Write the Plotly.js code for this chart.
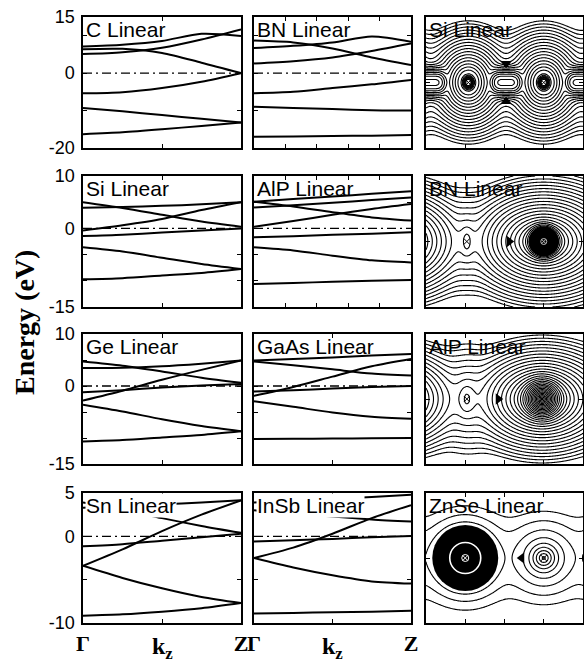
<!DOCTYPE html>
<html><head><meta charset="utf-8">
<script src="https://cdn.plot.ly/plotly-3.0.1.min.js"></script>
<style>html,body{margin:0;padding:0;background:#fff}#plot{width:584px;height:663px}</style>
</head><body><div id="plot"></div>
<script>
// ---------- band-structure data (energy in eV at k points along Γ→Z) ----------
const kPoints = [0, 0.25, 0.5, 0.75, 1];
const fermiLevel = 0;

const bandsC = [
  [-16.3, -15.8, -15.0, -14.1, -13.2],
  [-9.3, -10.2, -11.2, -12.2, -13.2],
  [-5.4, -5.1, -4.0, -2.3, 0],
  [6.4, 6.5, 5.4, 2.8, 0],
  [5.1, 5.6, 6.8, 9.0, 11.7],
  [7.1, 7.6, 8.6, 10.5, 9.9]
];
const bandsBN = [
  [-17.0, -16.9, -16.8, -16.7, -16.5],
  [-9.0, -9.3, -9.6, -9.9, -10.0],
  [-5.4, -5.0, -4.0, -3.0, -1.8],
  [8.7, 8.2, 6.6, 4.2, 2.2],
  [6.7, 7.3, 8.2, 9.8, 8.4],
  [2.6, 3.2, 4.2, 5.9, 7.9]
];
const bandsSi = [
  [-9.7, -9.5, -9.0, -8.5, -7.75],
  [-3.6, -4.4, -5.6, -6.8, -7.75],
  [-1.45, -1.2, -0.8, -0.4, 0],
  [-0.4, 0.6, 1.8, 3.5, 5.0],
  [5.0, 3.9, 2.6, 1.3, 0.3],
  [3.95, 4.1, 4.3, 4.6, 5.0]
];
const bandsAlP = [
  [-10.6, -10.4, -10.2, -10.0, -9.85],
  [-3.6, -4.2, -5.2, -6.1, -6.5],
  [-1.7, -1.5, -1.2, -1.0, -0.75],
  [0.3, 1.4, 2.6, 3.7, 4.65],
  [5.1, 4.2, 3.1, 2.1, 1.5],
  [4.0, 4.4, 4.9, 5.4, 5.9],
  [5.1, 5.6, 6.1, 6.6, 7.1]
];
const bandsGe = [
  [-10.65, -10.4, -9.9, -9.4, -8.7],
  [-3.6, -4.9, -6.4, -7.7, -8.7],
  [-1.2, -0.8, -0.3, 0.1, 0.4],
  [-2.8, -0.9, 1.2, 3.1, 4.9],
  [4.7, 3.9, 2.8, 1.6, 0.6],
  [3.45, 3.5, 3.8, 4.3, 4.9]
];
const bandsGaAs = [
  [-10.2, -10.15, -10.1, -10.05, -10.0],
  [-2.95, -4.0, -5.1, -5.9, -6.3],
  [-1.05, -0.8, -0.5, -0.2, 0],
  [-1.9, -0.2, 1.8, 3.8, 5.2],
  [4.7, 4.0, 3.2, 2.4, 2.0],
  [4.9, 5.2, 5.5, 5.85, 6.15]
];
const bandsSn = [
  [-9.15, -9.0, -8.7, -8.3, -7.7],
  [-3.4, -4.8, -6.0, -7.0, -7.7],
  [-1.15, -0.9, -0.5, -0.1, 0.3],
  [-3.4, -1.5, 0.6, 2.5, 4.15],
  [3.9, 3.1, 2.1, 1.2, 0.4],
  [3.3, 3.5, 3.7, 3.9, 4.15]
];
const bandsInSb = [
  [-8.9, -8.85, -8.75, -8.7, -8.6],
  [-2.5, -3.6, -4.5, -5.2, -5.45],
  [-0.6, -0.45, -0.3, -0.1, 0.05],
  [-2.5, -1.3, 0.3, 2.1, 3.6],
  [3.0, 2.6, 2.3, 1.95, 1.7],
  [3.9, 4.1, 4.3, 4.55, 4.8]
];

const bandTitles = ['C Linear', 'BN Linear', 'Si Linear', 'AlP Linear', 'Ge Linear', 'GaAs Linear', 'Sn Linear', 'InSb Linear'];
const bandSets = [bandsC, bandsBN, bandsSi, bandsAlP, bandsGe, bandsGaAs, bandsSn, bandsInSb];
const rowRanges = [[-20, 15], [-15, 10], [-15, 10], [-10, 5]];
const rowTickVals = [[-20, -10, 0, 10, 15], [-15, -10, -5, 0, 5, 10], [-15, -10, -5, 0, 5, 10], [-10, -5, 0, 5]];
const rowTickText = [['-20', '', '0', '', '15'], ['-15', '', '', '0', '', '10'], ['-15', '', '', '0', '', '10'], ['-10', '', '0', '5']];
const kTickVals = [0, 0.5, 1];
const kTickText = ['Γ', '', 'Z'];

// ---------- charge-density panels: atom sites along the chain (fraction of panel width) ----------
const densTitles = ['Si Linear', 'BN Linear', 'AlP Linear', 'ZnSe Linear'];
const siAtomX = [-0.21, 0.27, 0.75, 1.23];
const siBondX = [0.03, 0.51, 0.99];
const bnAnionX = [-0.23, 0.75, 1.73];
const bnCationX = [0.26, 1.24];
const alpAnionX = [-0.24, 0.74, 1.72];
const alpCationX = [0.26, 1.24];
const znseZnX = [0.25, 1.25];
const znseSeX = [-0.25, 0.75];
const siMarkX = [0.27, 0.75];
const bnMarkX = [0.26, 0.75];
const alpMarkX = [0.26, 0.74];
const znseMarkX = [0.25, 0.75];
const siTriX = [0.51, 0.51], siTriY = [0.12, -0.12];
const bnTriX = [0.53], alpTriX = [0.46], znseTriX = [0.61];
const bnCoreX = [0.75];
const znseCoreX = [0.25];

const H_UNITS = 0.415; // half height of density panel in width units

function sq(v) { return v * v; }
function slater(r, w, L) { return w * Math.exp(-r / L); }
function buildField(fn) {
  const nx = 161, ny = 135, xs = [], ys = [], z = [];
  for (let i = 0; i < nx; i++) xs.push(i / (nx - 1));
  for (let j = 0; j < ny; j++) ys.push(-H_UNITS + 2 * H_UNITS * j / (ny - 1));
  for (let j = 0; j < ny; j++) {
    const row = [];
    for (let i = 0; i < nx; i++) row.push(Math.log(fn(xs[i], ys[j])));
    z.push(row);
  }
  return { xs, ys, z };
}
const siRho = (x, y) => {
  let s = 0;
  for (const a of siAtomX) {
    const r = Math.hypot(x - a, 0.85 * y);
    s += slater(r, 1, 0.055) * (1 - 0.97 * Math.exp(-sq(sq(r / 0.045))));
  }
  for (const b of siBondX) s += 0.3 * Math.exp(-sq(sq((x - b) / 0.085)) - sq(y / 0.06));
  return s + 1e-9;
};
const bnRho = (x, y) => {
  let s = 0;
  for (const a of bnAnionX) {
    const r = Math.hypot(x - a, 1.4 * y), r0 = Math.hypot(x - a, y);
    s += slater(r, 1, 0.075) + slater(r0, Math.exp(6), 0.013);
  }
  for (const c of bnCationX) {
    const r = Math.hypot(x - c, 0.4 * y);
    s += slater(r, 0.006, 0.03);
  }
  return s + 1e-9;
};
const alpRho = (x, y) => {
  let s = 0;
  for (const a of alpAnionX) {
    const r = Math.hypot(x - a, 1.4 * y), r0 = Math.hypot(x - a, y);
    s += slater(r, 1, 0.075) + slater(r0, Math.exp(4), 0.02);
  }
  for (const c of alpCationX) {
    const r = Math.hypot(x - c, 0.5 * y);
    s += slater(r, 0.01, 0.05);
  }
  return s + 1e-9;
};
const znseRho = (x, y) => {
  let s = 0;
  for (const a of znseZnX) {
    const r = Math.hypot(x - a, y);
    s += slater(r, 1, 0.07) + slater(r, Math.exp(6), 0.022);
  }
  for (const b of znseSeX) {
    const r = Math.hypot(x - b, y);
    s += slater(r, 0.6, 0.07) + slater(r, Math.exp(2.5), 0.02);
  }
  return s + 1e-9;
};

// ---------- layout geometry ----------
const W = 584, H = 663;
const colPx = [[83, 241], [254, 411], [426, 583]];
const rowPx = [[17, 148], [176, 307], [334, 464], [493, 623]];
const sans = 'Liberation Sans, Arial, sans-serif';
const serif = 'Liberation Serif, Times New Roman, serif';

const data = [], layout = {
  width: W, height: H, margin: { l: 0, r: 0, t: 0, b: 0 },
  paper_bgcolor: 'white', plot_bgcolor: 'white', showlegend: false,
  annotations: []
};

function axisIds(row, col) {
  const n = row * 3 + col + 1;
  return { n, xa: 'x' + (n === 1 ? '' : n), ya: 'y' + (n === 1 ? '' : n), xk: 'xaxis' + (n === 1 ? '' : n), yk: 'yaxis' + (n === 1 ? '' : n) };
}
function mk(xs, ys, id, marker) {
  data.push({ type: 'scatter', mode: 'markers', x: xs, y: ys, xaxis: id.xa, yaxis: id.ya, marker, hoverinfo: 'skip' });
}

for (let row = 0; row < 4; row++) {
  for (let col = 0; col < 3; col++) {
    const id = axisIds(row, col);
    const xd = [colPx[col][0] / W, colPx[col][1] / W];
    const yd = [1 - rowPx[row][1] / H, 1 - rowPx[row][0] / H];
    const common = { showline: true, linecolor: 'black', linewidth: 1.6, mirror: 'ticks', ticks: 'inside', ticklen: 4, tickwidth: 1, tickcolor: 'black', showgrid: false, zeroline: false, fixedrange: true };
    let title, labelBg = 'rgba(0,0,0,0)';
    if (col < 2) {
      const idx = row * 2 + col;
      title = bandTitles[idx];
      const bottom = row === 3;
      if (bottom) labelBg = 'white';
      const xt = (col === 1 && row < 2) ? [0.2, 0.4, 0.6, 0.8] : [0.5];
      layout[id.xk] = Object.assign({}, common, {
        domain: xd, range: [0, 1], anchor: id.ya,
        tickvals: bottom ? kTickVals : xt, ticktext: bottom ? kTickText : undefined,
        showticklabels: bottom,
        tickfont: { family: serif, size: 22, color: 'black', weight: 'bold' },
        ticklabelstandoff: 0
      });
      layout[id.yk] = Object.assign({}, common, {
        domain: yd, range: rowRanges[row], anchor: id.xa,
        tickvals: rowTickVals[row], ticktext: rowTickText[row],
        showticklabels: col === 0,
        tickfont: { family: sans, size: 18, color: 'black' },
        ticklabelstandoff: 3
      });
      data.push({ type: 'scatter', mode: 'lines', x: [0, 1], y: [fermiLevel, fermiLevel], xaxis: id.xa, yaxis: id.ya,
        line: { color: 'black', width: 1.4, dash: '9px,4px,2px,4px' }, hoverinfo: 'skip' });
      for (const b of bandSets[idx]) {
        data.push({ type: 'scatter', mode: 'lines', x: kPoints, y: b, xaxis: id.xa, yaxis: id.ya,
          line: { color: 'black', width: 2, shape: 'spline', smoothing: 0.8 }, hoverinfo: 'skip' });
      }
      if (bottom) {
        layout.annotations.push({ xref: id.xa + ' domain', yref: 'paper', x: 0.5, y: 1 - 648 / H, yanchor: 'middle', xanchor: 'center',
          text: '<b>k</b><sub><b>z</b></sub>', showarrow: false, font: { family: serif, size: 24, color: 'black' } });
      }
    } else {
      title = densTitles[row];
      layout[id.xk] = Object.assign({}, common, { domain: xd, range: [0, 1], anchor: id.ya, tickvals: [0.25, 0.5, 0.75], showticklabels: false });
      layout[id.yk] = Object.assign({}, common, { domain: yd, range: [-H_UNITS, H_UNITS], anchor: id.xa, tickvals: [0], showticklabels: false });
      const spec = [
        { fn: siRho, step: 0.3, y0: 0.33, marks: siMarkX, tri: [siTriX, siTriY, ['triangle-down', 'triangle-up']] },
        { fn: bnRho, step: 0.38, y0: 0.34, marks: bnMarkX, tri: [bnTriX, [0], ['triangle-right']] },
        { fn: alpRho, step: 0.38, y0: 0.34, marks: alpMarkX, tri: [alpTriX, [0], ['triangle-right']] },
        { fn: znseRho, step: 0.85, y0: 0.26, marks: znseMarkX, tri: [znseTriX, [0], ['triangle-left']] }
      ][row];
      const f = buildField(spec.fn);
      let lo = Infinity, hi = -Infinity;
      for (let i = 0; i < f.xs.length; i++) lo = Math.min(lo, Math.log(spec.fn(f.xs[i], spec.y0)));
      for (const r of f.z) for (const v of r) hi = Math.max(hi, v);
      data.push({ type: 'contour', x: f.xs, y: f.ys, z: f.z, xaxis: id.xa, yaxis: id.ya, autocontour: false,
        contours: { start: lo, end: hi, size: spec.step, coloring: 'lines', showlabels: false },
        line: { width: 1.1, smoothing: 1 }, colorscale: [[0, 'black'], [1, 'black']], showscale: false, hoverinfo: 'skip' });
      if (row === 1) {
        mk(bnCoreX, [0], id, { symbol: 'circle', size: 30, color: 'black', line: { width: 0 } });
        mk(bnCoreX, [0], id, { symbol: 'circle-x-open', size: 6, color: '#bbb', line: { width: 1, color: '#bbb' } });
        mk([bnMarkX[0]], [0], id, { symbol: 'x-thin-open', size: 6, color: 'black', line: { width: 1, color: 'black' } });
      } else if (row === 3) {
        mk(znseCoreX, [0], id, { symbol: 'circle', size: 66, color: 'black', line: { width: 0 } });
        mk(znseCoreX, [0], id, { symbol: 'circle-open', size: 31, color: 'white', line: { width: 1.6, color: 'white' } });
        mk(znseCoreX, [0], id, { symbol: 'circle-x-open', size: 7, color: 'white', line: { width: 1, color: 'white' } });
        mk([znseMarkX[1]], [0], id, { symbol: 'x-thin-open', size: 6, color: 'black', line: { width: 1, color: 'black' } });
      } else {
        mk(spec.marks, spec.marks.map(() => 0), id, { symbol: 'x-thin-open', size: 6, color: 'black', line: { width: 1, color: 'black' } });
      }
      mk(spec.tri[0], spec.tri[1], id, { symbol: spec.tri[2], size: 10, color: 'black' });
    }
    layout.annotations.push({ xref: id.xa + ' domain', yref: id.ya + ' domain', x: 0.012, y: 0.997, xanchor: 'left', yanchor: 'top',
      text: title, showarrow: false, bgcolor: labelBg, borderpad: 0, font: { family: sans, size: 21, color: 'black' } });
  }
}

layout.annotations.push({ xref: 'paper', yref: 'paper', x: 24 / W, y: 1 - 323 / H, xanchor: 'center', yanchor: 'middle', textangle: -90,
  text: '<b>Energy (eV)</b>', showarrow: false, font: { family: serif, size: 28, color: 'black' } });

Plotly.newPlot('plot', data, layout, { staticPlot: true, displayModeBar: false });
</script>
</body></html>
